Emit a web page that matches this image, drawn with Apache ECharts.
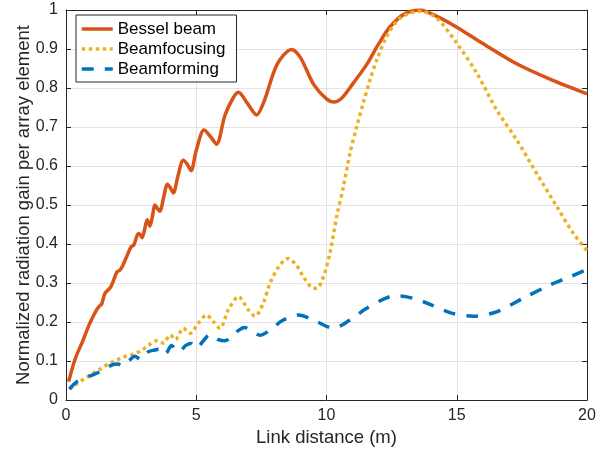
<!DOCTYPE html>
<html>
<head>
<meta charset="utf-8">
<script src="https://cdn.jsdelivr.net/npm/echarts@6/dist/echarts.min.js"></script>
<style>
html,body{margin:0;padding:0;background:#fff;}
#chart{width:613px;height:449px;}
</style>
</head>
<body>
<div id="chart"></div>
<script>
// Series names
var seriesNames = ['Bessel beam', 'Beamfocusing', 'Beamforming'];

// Bessel beam: [distance (m), normalized gain]
var besselData = [
  [0.1,0.047],[0.35,0.105],[0.66,0.154],[0.9,0.195],[1.18,0.232],[1.3,0.242],[1.37,0.246],
  [1.5,0.274],[1.69,0.287],[1.8,0.302],[1.95,0.328],[2.07,0.333],[2.18,0.345],[2.33,0.368],
  [2.5,0.393],[2.6,0.397],[2.78,0.427],[2.85,0.424],[2.92,0.416],[3.0,0.432],[3.12,0.462],
  [3.22,0.446],[3.3,0.465],[3.42,0.5],[3.52,0.49],[3.6,0.484],[3.75,0.52],[3.89,0.553],
  [4.0,0.545],[4.12,0.531],[4.3,0.575],[4.5,0.615],[4.65,0.605],[4.8,0.588],[5.0,0.64],
  [5.3,0.692],[5.55,0.675],[5.78,0.656],[6.1,0.73],[6.42,0.775],[6.62,0.789],[6.95,0.762],
  [7.32,0.731],[7.6,0.765],[8.1,0.86],[8.66,0.899],[9.0,0.878],[9.5,0.81],[10.0,0.772],
  [10.3,0.764],[10.6,0.775],[11.0,0.81],[11.54,0.86],[12.0,0.913],[12.44,0.957],[13.0,0.99],
  [13.6,1.0],[14.2,0.985],[15.0,0.956],[16.0,0.914],[17.3,0.862],[18.6,0.822],[20.0,0.785]
];

// Beamfocusing
var focusData = [
  [0.13,0.028],[0.36,0.039],[0.74,0.056],[1.25,0.077],[1.7,0.095],[2.0,0.104],[2.2,0.11],
  [2.6,0.118],[2.92,0.128],[3.17,0.141],[3.49,0.152],[3.62,0.148],[3.75,0.146],[4.0,0.167],
  [4.2,0.155],[4.5,0.184],[4.76,0.171],[5.08,0.197],[5.4,0.218],[5.65,0.201],[5.91,0.184],
  [6.23,0.231],[6.62,0.265],[7.0,0.231],[7.26,0.215],[7.57,0.248],[7.83,0.299],[8.2,0.345],
  [8.53,0.363],[8.85,0.345],[9.11,0.316],[9.4,0.29],[9.62,0.286],[9.85,0.31],[10.13,0.376],
  [10.39,0.47],[10.65,0.547],[10.9,0.632],[11.16,0.701],[11.41,0.761],[11.67,0.821],
  [11.93,0.872],[12.31,0.932],[12.82,0.979],[13.59,0.997],[14.23,0.979],[15.0,0.915],
  [15.77,0.838],[16.53,0.744],[17.3,0.667],[18.07,0.581],[18.84,0.496],[19.48,0.427],[20.0,0.383]
];

// Beamforming
var formData = [
  [0.13,0.028],[0.42,0.047],[0.93,0.062],[1.32,0.073],[1.77,0.09],[2.0,0.092],[2.15,0.088],
  [2.4,0.1],[2.65,0.112],[2.85,0.104],[3.17,0.124],[3.4,0.128],[3.56,0.13],[3.69,0.118],
  [3.85,0.12],[4.05,0.14],[4.2,0.13],[4.33,0.124],[4.6,0.14],[4.8,0.145],[5.02,0.133],
  [5.25,0.15],[5.53,0.168],[5.85,0.155],[6.1,0.152],[6.49,0.172],[6.85,0.186],[7.1,0.179],
  [7.45,0.166],[7.8,0.178],[8.34,0.205],[8.92,0.218],[9.62,0.201],[10.26,0.184],[10.9,0.205],
  [11.54,0.235],[12.44,0.265],[12.82,0.267],[13.72,0.252],[14.74,0.224],[15.64,0.215],
  [16.53,0.226],[17.55,0.261],[18.58,0.295],[19.35,0.316],[20.0,0.335]
];

// Axis definitions
var xMin = 0, xMax = 20, xStep = 5;
var yMin = 0, yMax = 1, yStep = 0.1;
var xTitle = 'Link distance (m)';
var yTitle = 'Normalized radiation gain per array element';

var FONT = '"Liberation Sans", Arial, Helvetica, sans-serif';
var AX = '#262626';
var colors = ['#D95319', '#EDB120', '#0072BD'];

var chart = echarts.init(document.getElementById('chart'), null, {renderer: 'canvas'});

function yLabel(v) {
  return (Math.round(v * 10) / 10).toString();
}

var mirrorAxisCommon = {
  axisLine: {show: true, onZero: false, lineStyle: {color: AX, width: 1}},
  axisTick: {show: true, inside: true, length: 5, lineStyle: {color: AX}},
  axisLabel: {show: false},
  splitLine: {show: false}
};

var option = {
  animation: false,
  backgroundColor: '#ffffff',
  color: colors,
  grid: {left: 66, right: 26, top: 10, bottom: 49, containLabel: false, outerBoundsMode: 'none'},
  legend: {
    data: seriesNames,
    orient: 'vertical',
    left: 76,
    top: 15,
    padding: [4, 11, 3, 4],
    itemWidth: 31,
    itemHeight: 14,
    itemGap: 0,
    itemStyle: {opacity: 0},
    lineStyle: {width: 3.5},
    backgroundColor: '#ffffff',
    borderColor: AX,
    borderWidth: 1,
    borderRadius: 0,
    textStyle: {fontFamily: FONT, fontSize: 17, color: '#000', lineHeight: 20}
  },
  xAxis: [{
    type: 'value', min: xMin, max: xMax, interval: xStep,
    name: xTitle, nameLocation: 'middle', nameGap: 28, nameMoveOverlap: false,
    nameTextStyle: {fontFamily: FONT, fontSize: 18.5, color: '#262626'},
    axisLine: {show: true, onZero: false, lineStyle: {color: AX, width: 1}},
    axisTick: {show: true, inside: true, length: 5, lineStyle: {color: AX}},
    axisLabel: {fontFamily: FONT, fontSize: 16, color: '#262626', margin: 8},
    splitLine: {show: true, lineStyle: {color: '#e3e3e3', width: 1}}
  }, Object.assign({type: 'value', position: 'top', min: xMin, max: xMax, interval: xStep}, mirrorAxisCommon)],
  yAxis: [{
    type: 'value', min: yMin, max: yMax, interval: yStep,
    name: yTitle, nameLocation: 'middle', nameGap: 33, nameRotate: 90, nameMoveOverlap: false,
    nameTextStyle: {fontFamily: FONT, fontSize: 18.5, color: '#262626'},
    axisLine: {show: true, onZero: false, lineStyle: {color: AX, width: 1}},
    axisTick: {show: true, inside: true, length: 5, lineStyle: {color: AX}},
    axisLabel: {fontFamily: FONT, fontSize: 16, color: '#262626', margin: 8, formatter: yLabel},
    splitLine: {show: true, lineStyle: {color: '#e3e3e3', width: 1}}
  }, Object.assign({type: 'value', position: 'right', min: yMin, max: yMax, interval: yStep}, mirrorAxisCommon)],
  series: [{
    name: seriesNames[0], type: 'line', data: besselData, xAxisIndex: 0, yAxisIndex: 0,
    showSymbol: false, symbol: 'none', smooth: 0.3,
    lineStyle: {color: colors[0], width: 3.5, type: 'solid'}
  }, {
    name: seriesNames[1], type: 'line', data: focusData, xAxisIndex: 0, yAxisIndex: 0,
    showSymbol: false, symbol: 'none', smooth: 0.3,
    lineStyle: {color: colors[1], width: 3.5, type: [3.5, 3.5], cap: 'butt'}
  }, {
    name: seriesNames[2], type: 'line', data: formData, xAxisIndex: 0, yAxisIndex: 0,
    showSymbol: false, symbol: 'none', smooth: 0.3,
    lineStyle: {color: colors[2], width: 3.5, type: [12, 11], cap: 'butt'}
  }]
};

chart.setOption(option);
</script>
</body>
</html>
